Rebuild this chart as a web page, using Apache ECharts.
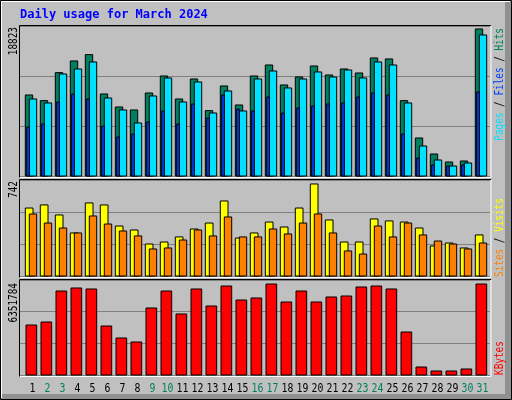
<!DOCTYPE html>
<html><head><meta charset="utf-8">
<script src="https://cdn.jsdelivr.net/npm/echarts@6/dist/echarts.min.js"></script>
<style>html,body{margin:0;padding:0;background:#c0c0c0}#c{width:512px;height:400px}</style>
</head><body><div id="c"></div>
<script>
const days = [1,2,3,4,5,6,7,8,9,10,11,12,13,14,15,16,17,18,19,20,21,22,23,24,25,26,27,28,29,30,31];
const weekend = [2,3,9,10,16,17,23,24,30,31];
const hits = [10371,9646,13231,14725,15536,10499,8835,8451,10627,12804,9859,12420,8365,11524,9091,12804,14212,11652,12676,14084,12932,13700,13188,15109,14981,9646,4866,2817,1793,1921,18823];
const files = [9859,9347,13060,13700,14597,9987,8451,6786,10243,12548,9475,12036,8067,10883,8323,12420,13444,11268,12420,13316,12676,13572,12548,14597,14212,9347,3841,2049,1280,1665,18054];
const pages = [6274,6658,9475,10499,9859,6402,4994,5378,6914,8323,6658,9219,7426,10371,8579,8323,10115,8067,8707,8963,9219,9347,10115,10627,10371,5378,2305,1408,1280,1408,10755];
const visits = [548,573,492,347,589,573,403,371,258,274,315,379,427,605,306,347,435,395,548,742,452,274,274,460,444,435,387,242,266,226,331];
const sites = [500,427,387,347,484,419,363,323,218,226,290,371,323,476,315,315,379,339,427,500,347,202,177,403,315,427,331,282,258,218,266];
const kbytes = [3490000,3699000,5863000,6073000,6003000,3420000,2583000,2303000,4677000,5863000,4258000,6003000,4816000,6212000,5235000,5375000,6351784,5095000,5863000,5095000,5445000,5514000,6143000,6212000,6003000,3001000,558000,279000,279000,419000,6351784];
const maxLabels = ['18823','742','6351784'];

const chart = echarts.init(document.getElementById('c'));
const F = 'DejaVu Sans Mono';
const FT = '12px "'+F+'"';
const xmin = 1 - 11/15, xmax = 1 + 459/15;
function bar(api, d, v, x0, x1, color) {
  const top = api.coord([d, v]), base = api.coord([d, 0]);
  const c = top[0];
  return {type:'rect', shape:{x:c+x0, y:top[1], width:x1-x0, height:base[1]-top[1]},
    style:{fill:color, stroke:'#000', lineWidth:1}};
}
function grp(specs) {
  return function(params, api) {
    const d = api.value(0);
    return {type:'group', children: specs.map((s,i)=>bar(api, d, api.value(i+1), s[0], s[1], s[2]))};
  };
}
const grids = [{left:20,width:470,top:26,height:150},{left:20,width:470,top:180,height:96},{left:20,width:470,top:280,height:95}];
const maxes = [19200, 774, 6631000];
const gl = '#808080';
function vtext(x, y, text, align, extra) {
  return Object.assign({type:'text', x:x, y:y, rotation:Math.PI/2, scaleX:0.78,
    style:Object.assign({text:text, font:FT, fill:'#000', align:align, verticalAlign:'middle'}, extra||{})});
}
const option = {
  backgroundColor:'#c0c0c0',
  animation:false,
  grid: grids,
  xAxis: grids.map((g,i)=>({type:'value', gridIndex:i, min:xmin, max:xmax, show:false})),
  yAxis: grids.map((g,i)=>({type:'value', gridIndex:i, min:0, max:maxes[i], interval:maxes[i]/3,
    axisLabel:{show:false}, axisLine:{show:false}, axisTick:{show:false},
    splitLine:{show:true, lineStyle:{color:gl, width:1}}})),
  series: [
    {type:'custom', xAxisIndex:0, yAxisIndex:0, data: days.map((d,i)=>[d,hits[i],files[i],pages[i]]),
      renderItem: grp([[-5.7,1.7,'#008060'],[-1.7,5.7,'#00e0ff'],[-4.3,-1.7,'#0040ff']])},
    {type:'custom', xAxisIndex:1, yAxisIndex:1, data: days.map((d,i)=>[d,visits[i],sites[i]]),
      renderItem: grp([[-5.7,2,'#ffff00'],[-1.7,5.7,'#ff8000']])},
    {type:'custom', xAxisIndex:2, yAxisIndex:2, data: days.map((d,i)=>[d,kbytes[i]]),
      renderItem: grp([[-5,5.7,'#ff0000']])},
    {type:'custom', xAxisIndex:2, yAxisIndex:2, data: days.map(d=>[d,0]),
      renderItem: function(params, api){
        const d = api.value(0); const p = api.coord([d,0]);
        return {type:'text', x:p[0]+1.5, y:389, scaleX:0.82, style:{text:String(d), font:FT,
          fill: weekend.includes(d)?'#00805c':'#000', align:'center', verticalAlign:'middle'}};
      }}
  ],
  graphic: [
    {type:'rect', shape:{x:0.5,y:0.5,width:511,height:399}, style:{fill:'none', stroke:'#000'}, z:-1},
    {type:'rect', shape:{x:505,y:1,width:6,height:398}, style:{fill:'#909090'}, z:-1},
    {type:'rect', shape:{x:1,y:394,width:510,height:5}, style:{fill:'#909090'}, z:-1},
    {type:'polyline', shape:{points:[[1.5,398],[1.5,1.5],[510,1.5]]}, style:{stroke:'#fff', fill:'none'}},
    ...grids.map(g=>({type:'polyline', shape:{points:[[g.left-0.5,g.top+g.height+1.5],[g.left-0.5,g.top-0.5],[g.left+g.width+1,g.top-0.5]]}, style:{stroke:'#000',fill:'none',lineWidth:1}})),
    ...grids.map(g=>({type:'polyline', shape:{points:[[g.left,g.top+g.height+1.5],[g.left+g.width+1,g.top+g.height+1.5],[g.left+g.width+1,g.top]]}, style:{stroke:'#fff',fill:'none',lineWidth:1}})),
    {type:'text', x:20, y:15, style:{text:'Daily usage for March 2024', font:'bold 12px "'+F+'"', fill:'#0000ff', verticalAlign:'middle'}},
    vtext(14, 27, maxLabels[0], 'right'),
    vtext(14, 181, maxLabels[1], 'right'),
    vtext(14, 283, maxLabels[2], 'right'),
    vtext(500, 28, '{a|Pages}{s| / }{b|Files}{s| / }{c|Hits}', 'right',
      {rich:{a:{fill:'#00e0ff',font:FT},b:{fill:'#0040ff',font:FT},c:{fill:'#00805c',font:FT},s:{fill:'#000',font:FT}}}),
    vtext(500, 277, '{a|Sites}{s| / }{b|Visits}', 'left',
      {rich:{a:{fill:'#ff8000',font:FT},b:{fill:'#ffff00',font:FT},s:{fill:'#000',font:FT}}}),
    vtext(500, 375, 'KBytes', 'left', {fill:'#ff0000'})
  ]
};
chart.setOption(option);
</script></body></html>
